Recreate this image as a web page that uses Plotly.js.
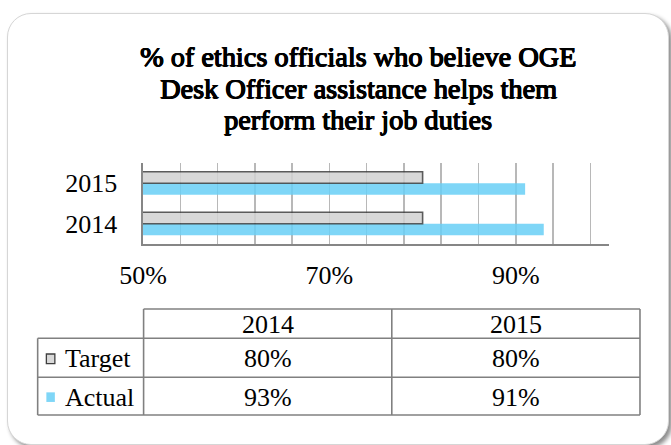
<!DOCTYPE html>
<html>
<head>
<meta charset="utf-8">
<script src="https://cdn.plot.ly/plotly-3.0.1.min.js"></script>
<style>
  html, body { margin: 0; padding: 0; background: #ffffff; }
  #wrap { position: relative; width: 671px; height: 445px; overflow: hidden; background: #ffffff; }
  #frame { position: absolute; left: 7px; top: 13px; width: 662px; height: 432px;
           border: 1.5px solid #d6d6d6; border-radius: 24px; box-sizing: border-box;
           box-shadow: 3px 3px 4px rgba(0,0,0,0.45); background: #ffffff; }
  #chart { position: absolute; left: 0; top: 0; width: 671px; height: 445px; }
</style>
</head>
<body>
<div id="wrap">
  <div id="frame"></div>
  <div id="chart"></div>
</div>
<script>
// ---- data ----
const titleLines = ['% of ethics officials who believe OGE', 'Desk Officer assistance helps them', 'perform their job duties'];
const years = ['2014', '2015'];
const seriesNames = ['Target', 'Actual'];
const targetValues = [80, 80];
const actualValues = [93, 91];
const xTickValues = [50, 70, 90];

// ---- layout geometry (pixels) ----
const W = 671, H = 445;
const M = { l: 142.7, r: W - 609, t: 163, b: H - 244 };
const PW = W - M.l - M.r, PH = H - M.t - M.b;
const px = x => (x - M.l) / PW;
const py = y => (H - M.b - y) / PH;

const FONT = 'Liberation Serif';
const colors = { Target: '#d2d2d2', Actual: '#68cff6' };
const keyColors = { Target: '#d9d9d9', Actual: '#7fd6f7' };

const traces = [
  { type: 'bar', orientation: 'h', name: 'Actual', y: years, x: actualValues,
    marker: { color: colors.Actual, opacity: 0.85, line: { width: 0 } },
    hoverinfo: 'skip' },
  { type: 'bar', orientation: 'h', name: 'Target', y: years, x: targetValues,
    marker: { color: colors.Target, opacity: 0.85, line: { color: '#3f3f3f', width: 1.6 } },
    hoverinfo: 'skip' }
];

const annotations = [];
const shapes = [];

// title lines (serif bold emulated with a thin text shadow on the serif face)
const titleCenters = [56.5, 88.2, 119.8];
const boldShadow = '0.7px 0 0 #000, -0.5px 0 0 #000, 0 0.5px 0 #000, 0.4px 0.4px 0 #000';
titleLines.forEach((t, i) => {
  annotations.push({ xref: 'paper', yref: 'paper', x: px(358), y: py(titleCenters[i]),
    xanchor: 'center', yanchor: 'middle', showarrow: false, text: t,
    font: { family: FONT, size: 28.3, color: '#000', shadow: boldShadow } });
});

// data table
const tL = 37.3, tC = 143.3, tR = 640, colW = (tR - tC) / years.length;
const rowY = [309, 338.3, 377.3, 415];
const lineStyle = { color: '#808080', width: 1.6 };
function hline(x0, x1, y) { shapes.push({ type: 'line', xref: 'paper', yref: 'paper', x0: px(x0), x1: px(x1), y0: py(y), y1: py(y), line: lineStyle }); }
function vline(x, y0, y1) { shapes.push({ type: 'line', xref: 'paper', yref: 'paper', x0: px(x), x1: px(x), y0: py(y0), y1: py(y1), line: lineStyle }); }
hline(tC, tR, rowY[0]);
hline(tL, tR, rowY[1]);
hline(tL, tR, rowY[2]);
hline(tL, tR, rowY[3]);
vline(tL, rowY[1], rowY[3]);
for (let i = 0; i <= years.length; i++) vline(tC + i * colW, rowY[0], rowY[3]);

const TFONT = { family: FONT, size: 26, color: '#000' };
years.forEach((yr, i) => {
  const cx = tC + colW * (i + 0.5);
  annotations.push({ xref: 'paper', yref: 'paper', x: px(cx), y: py((rowY[0] + rowY[1]) / 2 + 1),
    xanchor: 'center', yanchor: 'middle', showarrow: false, text: yr, font: TFONT });
  [targetValues, actualValues].forEach((vals, r) => {
    annotations.push({ xref: 'paper', yref: 'paper', x: px(cx), y: py((rowY[r + 1] + rowY[r + 2]) / 2 + 1),
      xanchor: 'center', yanchor: 'middle', showarrow: false, text: vals[i] + '%', font: TFONT });
  });
});
seriesNames.forEach((name, r) => {
  const cy = (rowY[r + 1] + rowY[r + 2]) / 2;
  annotations.push({ xref: 'paper', yref: 'paper', x: px(63), y: py(cy + 1),
    xanchor: 'left', yanchor: 'middle', showarrow: false, text: name, font: TFONT });
  shapes.push({ type: 'rect', xref: 'paper', yref: 'paper',
    x0: px(46), x1: px(54.5), y0: py(cy - 4.8 + 1), y1: py(cy + 4.8 + 1),
    fillcolor: keyColors[name],
    line: name === 'Target' ? { color: '#3f3f3f', width: 1.3 } : { width: 0 } });
});

const layout = {
  width: W, height: H,
  margin: { l: M.l, r: M.r, t: M.t, b: M.b, pad: 0 },
  paper_bgcolor: 'rgba(0,0,0,0)', plot_bgcolor: 'rgba(0,0,0,0)',
  font: { family: FONT, size: 26, color: '#000' },
  showlegend: false,
  barmode: 'group', bargap: 0.43, bargroupgap: 0,
  xaxis: {
    range: [50, 100], tickvals: xTickValues, ticktext: xTickValues.map(v => v + '%'),
    showgrid: true, gridcolor: '#b8b8b8', gridwidth: 1.5,
    minor: { dtick: 4, tick0: 50, showgrid: true, gridcolor: '#b8b8b8', gridwidth: 1.5, ticks: '' },
    showline: true, linecolor: '#868686', linewidth: 1.6,
    ticks: '', zeroline: false, ticklabelstandoff: 7,
    tickfont: { family: FONT, size: 26, color: '#000' }, fixedrange: true
  },
  yaxis: {
    type: 'category', showgrid: false, zeroline: false,
    showline: true, linecolor: '#868686', linewidth: 1.6,
    ticks: '', ticklabelstandoff: 19,
    tickfont: { family: FONT, size: 26, color: '#000' }, fixedrange: true
  },
  annotations: annotations,
  shapes: shapes
};

Plotly.newPlot('chart', traces, layout, { displayModeBar: false, staticPlot: true });
</script>
</body>
</html>
